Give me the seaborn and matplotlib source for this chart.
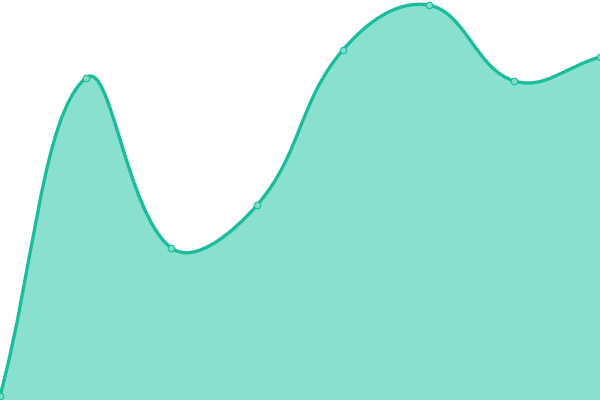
import numpy as np
import pandas as pd
import matplotlib
matplotlib.use("Agg")
import matplotlib.pyplot as plt
from matplotlib.path import Path
from matplotlib.patches import PathPatch
import seaborn as sns

# Data
categories = ["P1", "P2", "P3", "P4", "P5", "P6", "P7", "P8"]
values = [4, 322, 152, 195, 350, 395, 319, 343]

LINE = "#1abc9c"
FILL = "#89e0cf"
POINT_FILL = "#7fdcc9"

sns.set_theme(style="white")
fig = plt.figure(figsize=(6, 4), dpi=100)
ax = fig.add_axes([0, 0, 1, 1])
ax.set_xlim(0, len(categories) - 1)
ax.set_ylim(0, 400)
ax.axis("off")

df = pd.DataFrame({"x": np.arange(len(categories)), "y": values, "cat": categories})

# Chart.js-style bezier (tension 0.4), computed in pixel space
sx = 600 / (len(categories) - 1)
sy = 400 / 400
P = np.column_stack([df["x"].values * sx, df["y"].values * sy]).astype(float)
n = len(P)
t = 0.4
cps = []
for i in range(n):
    prev = P[i - 1] if i > 0 else P[i]
    cur = P[i]
    nxt = P[i + 1] if i < n - 1 else P[i]
    d01 = np.hypot(*(cur - prev))
    d12 = np.hypot(*(nxt - cur))
    tot = d01 + d12
    s01 = d01 / tot if tot else 0
    s12 = d12 / tot if tot else 0
    fa = t * s01
    fb = t * s12
    pcp = cur - fa * (nxt - prev)
    ncp = cur + fb * (nxt - prev)
    pcp = np.clip(pcp, [0, 0], [600, 400])
    ncp = np.clip(ncp, [0, 0], [600, 400])
    cps.append((pcp, ncp))

verts = [P[0]]
codes = [Path.MOVETO]
for i in range(1, n):
    verts += [cps[i - 1][1], cps[i][0], P[i]]
    codes += [Path.CURVE4] * 3
verts = np.array(verts)
verts[:, 0] /= sx
verts[:, 1] /= sy

fill_verts = np.vstack([verts, [[verts[-1, 0], 0], [verts[0, 0], 0], verts[0]]])
fill_codes = codes + [Path.LINETO, Path.LINETO, Path.CLOSEPOLY]
ax.add_patch(PathPatch(Path(fill_verts, fill_codes), facecolor=FILL, edgecolor="none", zorder=1))
ax.add_patch(PathPatch(Path(verts, codes), facecolor="none", edgecolor=LINE, lw=2.4, zorder=2,
                       capstyle="round", joinstyle="round"))

sns.scatterplot(data=df, x="x", y="y", ax=ax, s=22, color=POINT_FILL, edgecolor=LINE,
                linewidth=0.8, zorder=3, legend=False)
ax.set_xlim(0, len(categories) - 1)
ax.set_ylim(0, 400)
ax.axis("off")

fig.savefig("out.png", dpi=100)
